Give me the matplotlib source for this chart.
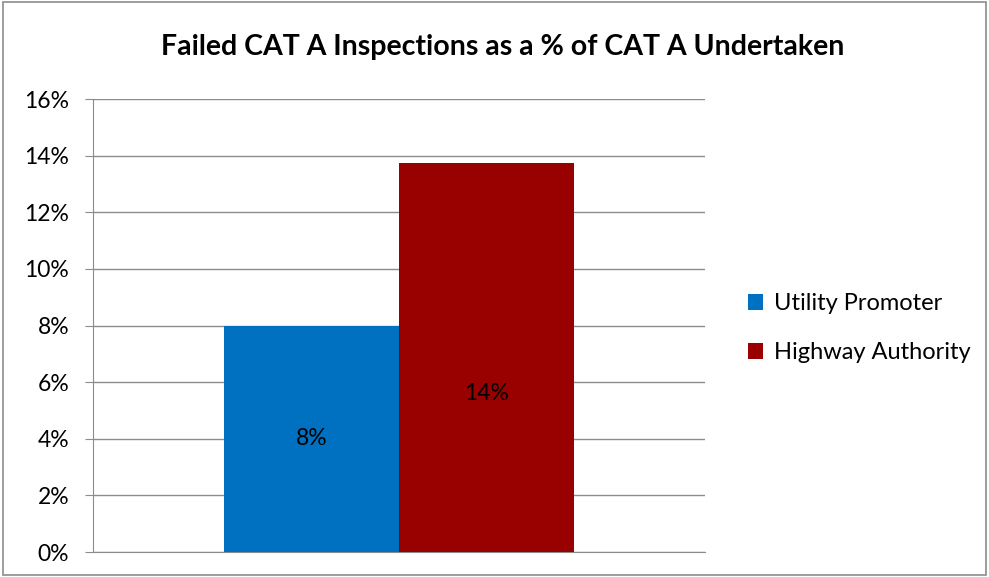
import matplotlib.pyplot as plt
from matplotlib.patches import Rectangle

# Chart data
series = ["Utility Promoter", "Highway Authority"]
values = [8.0, 13.75]
bar_labels = ["8%", "14%"]
label_y = [4.0, 5.6]  # where the data labels sit
colors = ["#0070C0", "#990000"]
y_ticks = [0, 2, 4, 6, 8, 10, 12, 14, 16]

plt.rcParams["font.family"] = ["Lato", "DejaVu Sans"]

fig = plt.figure(figsize=(9.89, 5.77), dpi=100)
ax = fig.add_axes([0.094, 0.0433, 0.619, 0.785])

width = 0.286
offsets = [-width / 2, width / 2]
for name, val, col, off, lab, ly in zip(series, values, colors, offsets, bar_labels, label_y):
    ax.bar(off, val, width=width, color=col, label=name, zorder=3)
    ax.text(off, ly, lab, ha="center", va="center", fontsize=16.5, color="black", zorder=4)

ax.set_xlim(-0.5, 0.5)
ax.set_ylim(0, 16)
ax.set_yticks(y_ticks)
ax.set_yticklabels([f"{t}%" for t in y_ticks], fontsize=16.5)
ax.set_xticks([])
ax.yaxis.grid(True, color="#8c8c8c", linewidth=1, zorder=0)
ax.tick_params(axis="y", length=6, color="#8c8c8c", pad=11)
for side in ["top", "right"]:
    ax.spines[side].set_visible(False)
for side in ["left", "bottom"]:
    ax.spines[side].set_color("#8c8c8c")

fig.text(0.508, 0.918, "Failed CAT A Inspections as a % of CAT A Undertaken",
         ha="center", va="center", fontsize=20.5, fontweight="bold")

ax.legend(loc="center left", bbox_to_anchor=(1.035, 0.494), frameon=False, fontsize=17,
          handlelength=0.65, handleheight=0.65, handletextpad=0.45, labelspacing=1.2)

fig.patches.append(Rectangle((0.003, 0.003), 0.994, 0.994, transform=fig.transFigure,
                             fill=False, edgecolor="#8c8c8c", linewidth=1.2))

fig.savefig("out.png", dpi=100)
